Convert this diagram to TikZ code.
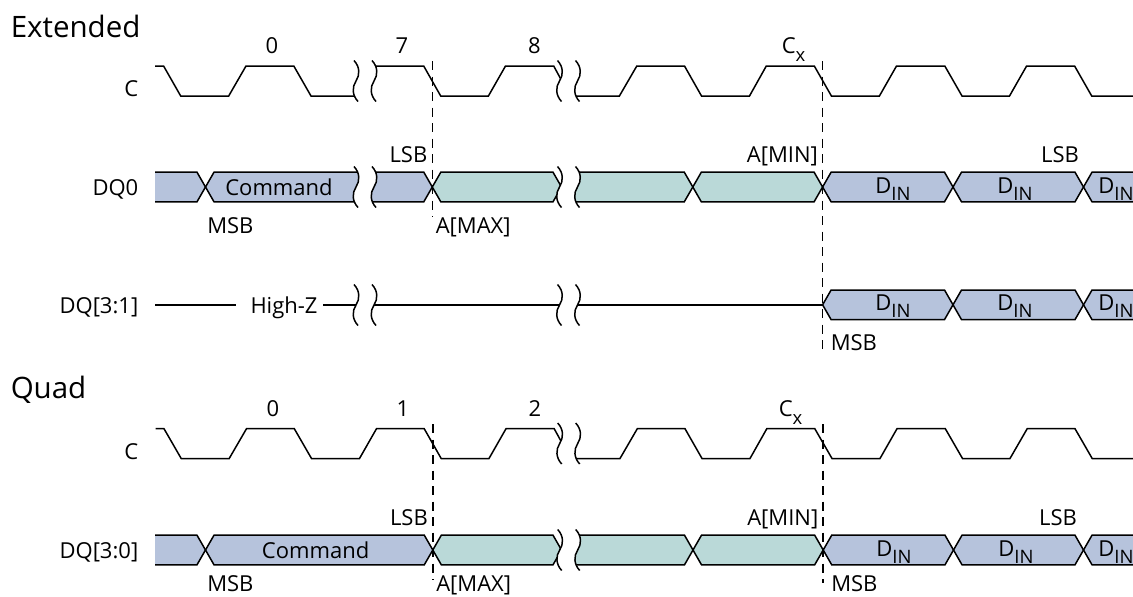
\documentclass[tikz,border=0pt]{standalone}
\usepackage{fontspec}
\setmainfont{Open Sans}
\usetikzlibrary{positioning}
\definecolor{cmdblue}{HTML}{B6C3DC}
\definecolor{addrteal}{HTML}{BAD9D8}
\newcommand{\subtxt}[3]{#1\raisebox{#3pt}{\fontsize{18.5}{22}\selectfont #2}}
\newcommand{\buscell}[4]{\draw[#1] (#2,#4) -- (#2+8.5,#4-14.8) -- (#3-8.5,#4-14.8) -- (#3,#4)
    -- (#3-8.5,#4+14.8) -- (#2+8.5,#4+14.8) -- cycle;}
\newcommand{\busstart}[2]{\draw[#1] (155,#2-14.8) -- (197,#2-14.8) -- (205.5,#2) -- (197,#2+14.8) -- (155,#2+14.8);}
\newcommand{\busstop}[2]{\draw[#1] (1133,#2-14.8) -- (1092,#2-14.8) -- (1083.5,#2) -- (1092,#2+14.8) -- (1133,#2+14.8);}
\tikzset{
    timing/.style={x=1pt,y=-1pt,line width=1.5pt,line join=miter,font=\fontsize{22}{26}\selectfont},
    sig/.style={draw=black},
    cmdbus/.style={draw=black,fill=cmdblue},
    addrbus/.style={draw=black,fill=addrteal},
    guide/.style={draw=black,dash pattern=on 9pt off 6.5pt},
    lbl/.style={inner sep=0pt,anchor=base},
    lblr/.style={inner sep=0pt,anchor=base east},
    lbll/.style={inner sep=0pt,anchor=base west},
    heading/.style={inner sep=0pt,anchor=base west,font=\fontsize{29.5}{34}\selectfont},
    brkpair/.pic={
        \fill[white] (-2,-20.5) .. controls (4,-14) and (4,-6) .. (0,0) .. controls (-4,6) and (-4,14) .. (2,20.5)
            -- (20,20.5) .. controls (14,14) and (14,6) .. (18,0) .. controls (22,-6) and (22,-14) .. (16,-20.5) -- cycle;
        \draw[sig] (-2,-20.5) .. controls (4,-14) and (4,-6) .. (0,0) .. controls (-4,6) and (-4,14) .. (2,20.5);
        \draw[sig] (16,-20.5) .. controls (22,-14) and (22,-6) .. (18,0) .. controls (14,6) and (14,14) .. (20,20.5);
    },
}
\begin{document}
\begin{tikzpicture}[timing]
    \useasboundingbox (0,0) rectangle (1133,597);

    % Extended
    \node[heading] (extended) at (10,37) {Extended};
    \node[lblr] (c1) at (139,96) {C};
    \node[lblr] (dq0) at (139,195) {DQ0};
    \node[lblr] (dq31) at (139,313) {DQ[3:1]};

    \coordinate (g1a) at (432.3,61);
    \coordinate (g1b) at (432.3,217);
    \coordinate (g2a) at (822.6,61);
    \coordinate (g2b) at (822.6,349);
    \path[guide] (g1a) -- (g1b);
    \path[guide] (g2a) -- (g2b);

    \draw[sig] (155,66) -- (163.6,66) -- (180.7,96) -- (228.7,96) -- (246,66) -- (293.8,66) -- (311,96) -- (365,96);
    \draw[sig] (365,66) -- (423.7,66) -- (440.7,96) -- (488.4,96) -- (505.5,66) -- (553.7,66) -- (570,96)
        -- (619.4,96) -- (636.8,66) -- (684.5,66) -- (701.5,96) -- (749.5,96) -- (766.3,66) -- (814.3,66)
        -- (831.4,96) -- (879.4,96) -- (896.5,66) -- (944.8,66) -- (962,96) -- (1009.5,96) -- (1026.6,66)
        -- (1074.6,66) -- (1091.7,96) -- (1133,96);
    \pic at (356,81) {brkpair};
    \pic at (559.5,81) {brkpair};
    \node[lbl] (t0) at (272,53) {0};
    \node[lbl] (t7) at (402,53) {7};
    \node[lbl] (t8) at (534.5,53) {8};
    \node[lbll] (tx) at (781,53) {\subtxt{C}{x}{-8}};

    \busstart{cmdbus}{187}
    \buscell{cmdbus}{205.5}{432.3}{187}
    \buscell{addrbus}{432.3}{561.5}{187}
    \buscell{addrbus}{565}{692.8}{187}
    \buscell{addrbus}{692.8}{822.6}{187}
    \buscell{cmdbus}{822.6}{953}{187}
    \buscell{cmdbus}{953}{1083.5}{187}
    \busstop{cmdbus}{187}
    \pic at (356,187) {brkpair};
    \pic at (559.5,187) {brkpair};
    \node[lbl] (cmd1) at (279,195) {Command};
    \node[lbl] (din1) at (893,193) {\subtxt{D}{IN}{-7}};
    \node[lbl] (din2) at (1015,193) {\subtxt{D}{IN}{-7}};
    \node[lbl] (din3) at (1116,193) {\subtxt{D}{IN}{-7}};
    \node[lblr] (lsb1) at (428,162) {LSB};
    \node[lblr] (amin1) at (818.6,162) {A[MIN]};
    \node[lbl] (lsb2) at (1060,162) {LSB};
    \node[lbll] (msb1) at (206.5,233) {MSB};
    \node[lbll] (amax1) at (435,233) {A[MAX]};

    \node[lbl] (hiz) at (284,313) {High-Z};
    \coordinate (z1) at (155,304.8);
    \coordinate (z2) at (236,304.8);
    \coordinate (z3) at (323,304.8);
    \coordinate (z4) at (822.6,304.8);
    \draw[sig] (z1) -- (z2);
    \draw[sig] (z3) -- (z4);
    \pic at (356,305) {brkpair};
    \pic at (559.5,305) {brkpair};
    \buscell{cmdbus}{822.6}{953}{304.8}
    \buscell{cmdbus}{953}{1083.5}{304.8}
    \busstop{cmdbus}{304.8}
    \node[lbl] (din4) at (893,310) {\subtxt{D}{IN}{-7}};
    \node[lbl] (din5) at (1015,310) {\subtxt{D}{IN}{-7}};
    \node[lbl] (din6) at (1116,310) {\subtxt{D}{IN}{-7}};
    \node[lbll] (msb2) at (830,350) {MSB};

    % Quad
    \node[heading] (quad) at (10,398) {Quad};
    \node[lblr] (c2) at (139,459) {C};
    \node[lblr] (dq30) at (139,558) {DQ[3:0]};

    \coordinate (g3a) at (432.8,424);
    \coordinate (g3b) at (432.8,580);
    \coordinate (g4a) at (823.2,424);
    \coordinate (g4b) at (823.2,583);
    \path[guide] (g3a) -- (g3b);
    \path[guide] (g4a) -- (g4b);

    \draw[sig] (155.5,428.7) -- (164,428.7) -- (181.2,458.5) -- (229.2,458.5) -- (246.5,428.7) -- (294.3,428.7)
        -- (311.5,458.5) -- (359.5,458.5) -- (376.5,428.7) -- (424.2,428.7) -- (441.2,458.5) -- (489,458.5)
        -- (506,428.7) -- (554.2,428.7) -- (570.5,458.5) -- (620,458.5) -- (637.3,428.7) -- (685,428.7)
        -- (702,458.5) -- (750,458.5) -- (766.8,428.7) -- (814.8,428.7) -- (832,458.5) -- (880,458.5)
        -- (897,428.7) -- (945.3,428.7) -- (962.5,458.5) -- (1010,458.5) -- (1027.2,428.7) -- (1075,428.7)
        -- (1092.2,458.5) -- (1133,458.5);
    \pic at (559.7,443.5) {brkpair};
    \node[lbl] (q0) at (273,416) {0};
    \node[lbl] (q1) at (403,416) {1};
    \node[lbl] (q2) at (535,416) {2};
    \node[lbll] (qx) at (778,416) {\subtxt{C}{x}{-8}};

    \busstart{cmdbus}{550}
    \buscell{cmdbus}{205.5}{432.8}{550}
    \buscell{addrbus}{432.8}{561.5}{550}
    \buscell{addrbus}{565}{693}{550}
    \buscell{addrbus}{693}{823.2}{550}
    \buscell{cmdbus}{823.2}{953.5}{550}
    \buscell{cmdbus}{953.5}{1083.5}{550}
    \busstop{cmdbus}{550}
    \pic at (559.7,550) {brkpair};
    \node[lbl] (cmd2) at (315.6,558) {Command};
    \node[lbl] (din7) at (894,556) {\subtxt{D}{IN}{-7}};
    \node[lbl] (din8) at (1016,556) {\subtxt{D}{IN}{-7}};
    \node[lbl] (din9) at (1116,556) {\subtxt{D}{IN}{-7}};
    \node[lblr] (lsb3) at (428.5,525) {LSB};
    \node[lblr] (amin2) at (819,525) {A[MIN]};
    \node[lbl] (lsb4) at (1058,525) {LSB};
    \node[lbll] (msb3) at (206.5,591.5) {MSB};
    \node[lbll] (amax2) at (435.5,591.5) {A[MAX]};
    \node[lbll] (msb4) at (830.5,591.5) {MSB};
\end{tikzpicture}
\end{document}
